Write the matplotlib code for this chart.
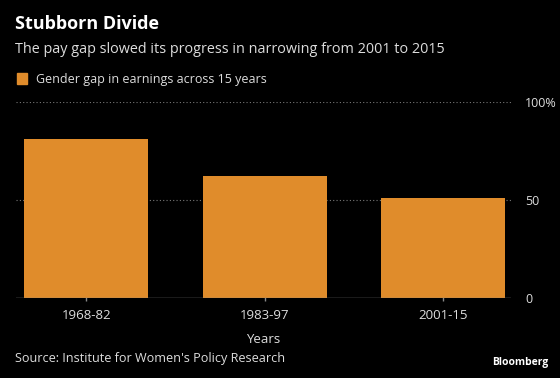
import matplotlib
matplotlib.use("Agg")
import matplotlib.pyplot as plt
from matplotlib.patches import Rectangle

categories = ["1968-82", "1983-97", "2001-15"]
values = [81, 62, 51]
yticks = [0, 50, 100]
yticklabels = ["0", "50", "100%"]

BG = "#000000"
ORANGE = "#E08C2B"
TXT = "#DDDDDD"
plt.rcParams['font.family'] = ['Open Sans', 'DejaVu Sans']

fig = plt.figure(figsize=(5.6, 3.78), dpi=100, facecolor=BG)
W, H = 560, 378
ax = fig.add_axes([15.7/W, 1-298/H, (511-15.7)/W, (298-102)/H], facecolor=BG)

x = list(range(len(categories)))
ax.bar(x, values, width=0.695, color=ORANGE, zorder=2)
ax.set_xlim(-0.396, 2.38)
ax.set_ylim(0, 100)

for yv in [50, 100]:
    ax.axhline(yv, color="#777777", lw=0.8, ls=(0, (1, 2)), zorder=1)
ax.axhline(0, color="#888888", lw=1, zorder=3)

for s in ax.spines.values():
    s.set_visible(False)
ax.yaxis.tick_right()
ax.set_yticks(yticks)
ax.set_yticklabels(yticklabels)
ax.set_xticks(x)
ax.set_xticklabels(categories)
ax.tick_params(axis='y', length=0, pad=10, labelsize=9, labelcolor=TXT)
ax.tick_params(axis='x', length=4, width=1, color="#888888", pad=6, labelsize=9.5, labelcolor=TXT, direction='inout')
ax.set_xlabel("Years", color=TXT, fontsize=9.5, labelpad=8)

fig.text(15/W, 1-29/H, "Stubborn Divide", color="white", fontsize=13, fontweight="bold", ha="left", va="baseline")
fig.text(15/W, 1-53/H, "The pay gap slowed its progress in narrowing from 2001 to 2015", color=TXT, fontsize=10.4, ha="left", va="baseline")
fig.patches.append(Rectangle((17/W, 1-84/H), 10/W, 11/H, transform=fig.transFigure, color=ORANGE, figure=fig))
fig.text(36/W, 1-83/H, "Gender gap in earnings across 15 years", color=TXT, fontsize=9, ha="left", va="baseline")
fig.text(15/W, 1-362/H, "Source: Institute for Women's Policy Research", color=TXT, fontsize=9.1, ha="left", va="baseline")
fig.text(548/W, 1-365/H, "Bloomberg", color="white", fontsize=7.5, fontweight="bold", ha="right", va="baseline")

fig.savefig("out.png", dpi=100, facecolor=BG)
